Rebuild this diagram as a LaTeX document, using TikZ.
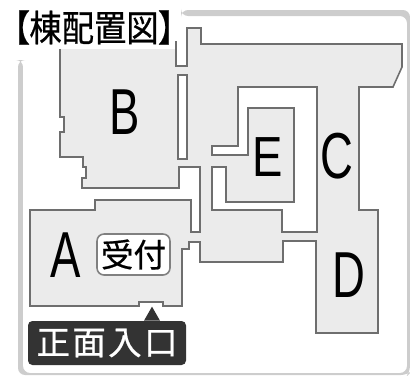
\documentclass[tikz,border=0pt]{standalone}
\usepackage{fontspec}
\setmainfont{Liberation Sans}
\newfontfamily\jpfont{Noto Sans CJK JP}[FakeBold=.6]
\newfontfamily\jptitle{Noto Sans CJK JP}[FakeBold=.6,RawFeature=+palt]
\definecolor{wing}{HTML}{EBEBEB}
\definecolor{wall}{HTML}{6E6E6E}
\definecolor{rim}{HTML}{CDCDCD}
\definecolor{tag}{HTML}{333333}
\tikzset{
	plan/.style={fill=wing,draw=wall,line width=.9pt,line join=miter},
	court/.style={fill=white,draw=wall,line width=.9pt},
	wingname/.style={inner sep=0pt,text=black},
}
\newcommand{\wingtext}[2]{\scalebox{.7}[#2]{\fontsize{37}{37}\selectfont #1}}
\begin{document}
\begin{tikzpicture}[x=.02cm,y=-.02cm]
			\useasboundingbox (0,0) rectangle (410,376);
			% frame
			\fill[rim,rounded corners=4] (18,60) -- (18,375) -- (408,375) -- (410,373) -- (410,10) -- (181,10) -- (181,16) -- (407,16) -- (407,373) -- (23,373) -- (23,60) -- cycle;
			% building
			\path[plan]
			(60,42) -- (60,117) -- (64,117) -- (64,132) -- (60,132) -- (60,157) -- (83,157) -- (83,167) -- (86,167) -- (86,178) -- (82,178) -- (82,188)
			-- (179,188) -- (179,167) -- (200,167) -- (200,232) -- (191,232) -- (191,200) -- (95,200) -- (95,210) -- (30,210) -- (30,306)
			-- (139,306) -- (139,302) -- (163,302) -- (163,306) -- (182,306) -- (182,249) -- (189,249) -- (189,242) -- (200,242) -- (200,262)
			-- (283,262) -- (283,241) -- (316,241) -- (316,333) -- (378,333) -- (378,210) -- (359,210) -- (359,87) -- (393,87) -- (402,67) -- (402,44)
			-- (201,44) -- (201,28) -- (187,28) -- (187,66) -- (176,66) -- (176,42) -- cycle;
			\path[court] (178,75) rectangle (187,159);
			\path[court]
			(238,87) -- (317,87) -- (317,232) -- (282,232) -- (282,210) -- (212,210) -- (212,167) -- (226,167) -- (226,202) -- (294,202) -- (294,108)
			-- (248,108) -- (248,155) -- (212,155) -- (212,146) -- (238,146) -- cycle;
			% title
			\node[fill=white,inner sep=0pt,minimum width=158*.02cm,minimum height=42*.02cm] (title) at (94,27.5) {\scalebox{1}[1.13]{\jptitle\fontsize{18.4}{18.4}\selectfont 【棟配置図】}};
			% wings
			\foreach \x/\p/\s in {A/{(65.5,255.5)}/1,B/{(124.5,112)}/1,C/{(336.5,156)}/1,D/{(348.5,275)}/1,E/{(268,157)}/.87}
				\node[wingname] (wing\x) at \p {\wingtext{\x}{\s}};
			% desk and entrance
			\node[draw=gray,fill=white,line width=.9pt,rounded corners=4,inner sep=0pt,minimum width=73*.02cm,minimum height=41*.02cm] (desk) at (133.5,254.5) {\jpfont\fontsize{18.5}{18.5}\selectfont 受付};
			\node[fill=tag,text=white,rounded corners=2.5,inner sep=0pt,minimum width=158*.02cm,minimum height=44*.02cm] (door) at (107,343) {\jpfont\fontsize{19}{19}\selectfont 正\hspace{1.4pt}面\hspace{1.4pt}入\hspace{1.4pt}口};
			\fill[tag] (door.north) ++(37,0) -- ++(8,-14) -- ++(8,14) -- cycle;
		\end{tikzpicture}
\end{document}
